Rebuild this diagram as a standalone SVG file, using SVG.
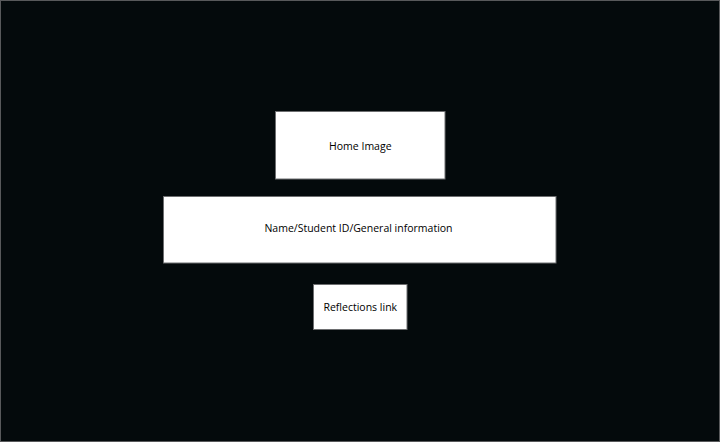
<svg xmlns="http://www.w3.org/2000/svg" width="720" height="442" viewBox="0 0 720 442">
<style>
.box{fill:#ffffff;stroke:#6d6e70;stroke-width:1}
.lbl{font-family:"Open Sans","Liberation Sans",sans-serif;font-size:10.5px;fill:#000;text-anchor:middle;dominant-baseline:central}
</style>
<rect x="0.5" y="0.5" width="719" height="441" fill="#040a0c" stroke="#58595b" stroke-width="1"/>
<g id="connectors"></g>
<g id="home-image">
<rect class="box" x="275.5" y="111.5" width="169.5" height="67.5"/>
<text class="lbl" x="360.3" y="146">Home Image</text>
</g>
<g id="general-info">
<rect class="box" x="163.5" y="196.5" width="392.5" height="66.5"/>
<text class="lbl" x="358.5" y="228">Name/Student ID/General information</text>
</g>
<g id="reflections-link">
<rect class="box" x="313.5" y="284.5" width="93.5" height="45"/>
<text class="lbl" x="360.3" y="307">Reflections link</text>
</g>
</svg>
